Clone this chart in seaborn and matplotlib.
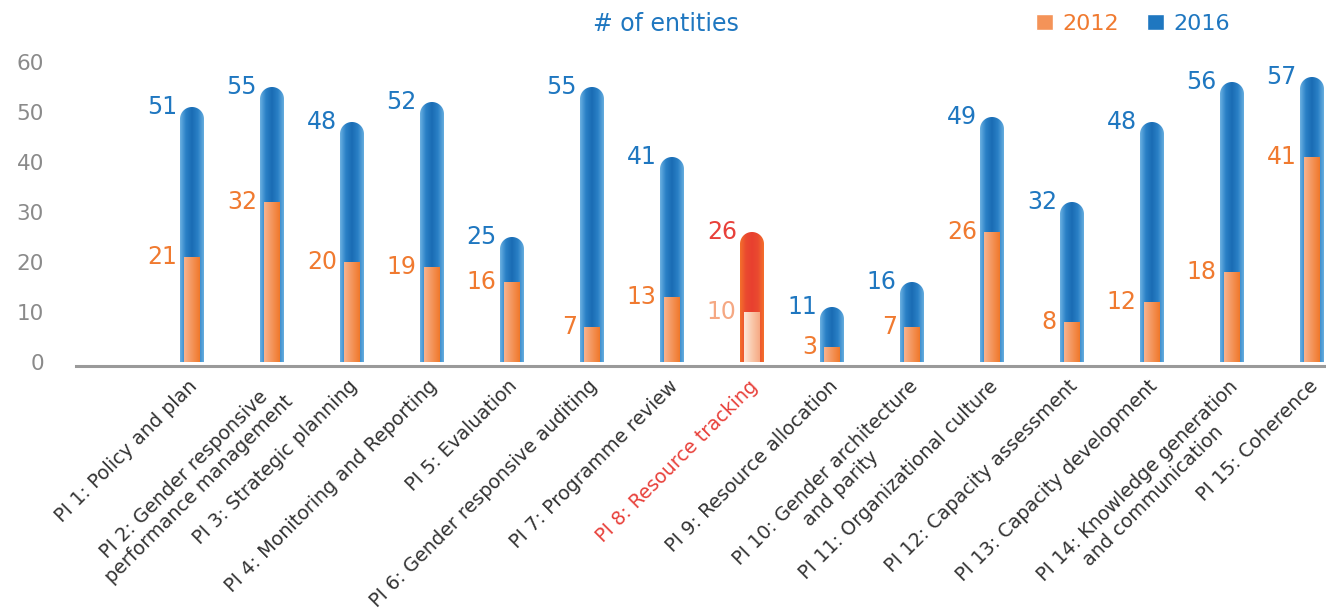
import numpy as np
import matplotlib
matplotlib.use("Agg")
import matplotlib.pyplot as plt
import seaborn as sns
from matplotlib.path import Path
from matplotlib.patches import PathPatch, Patch
from matplotlib.colors import LinearSegmentedColormap

categories = [
    "PI 1: Policy and plan",
    "PI 2: Gender responsive\nperformance management",
    "PI 3: Strategic planning",
    "PI 4: Monitoring and Reporting",
    "PI 5: Evaluation",
    "PI 6: Gender responsive auditing",
    "PI 7: Programme review",
    "PI 8: Resource tracking",
    "PI 9: Resource allocation",
    "PI 10: Gender architecture\nand parity",
    "PI 11: Organizational culture",
    "PI 12: Capacity assessment",
    "PI 13: Capacity development",
    "PI 14: Knowledge generation\nand communication",
    "PI 15: Coherence",
]
v2012 = [21, 32, 20, 19, 16, 7, 13, 10, 3, 7, 26, 8, 12, 18, 41]
v2016 = [51, 55, 48, 52, 25, 55, 41, 26, 11, 16, 49, 32, 48, 56, 57]
highlight = "PI 8: Resource tracking"
yticks = [0, 10, 20, 30, 40, 50, 60]

BLUE_TXT = "#1f77c0"
ORANGE_TXT = "#f07a30"
RED_TXT = "#e8403a"
PEACH_TXT = "#f5a883"
GRAY = "#8a8a8a"

cm_blue = LinearSegmentedColormap.from_list("b", ["#6cb1e2", "#2a80c6", "#1a6cb4", "#2a80c6", "#66addf"])
cm_orange = LinearSegmentedColormap.from_list("o", ["#f8b38f", "#f49358", "#ef7424"])
cm_red = LinearSegmentedColormap.from_list("r", ["#f4702c", "#ea4a30", "#e8402f", "#ea4a30", "#f4702c"])
cm_peach = LinearSegmentedColormap.from_list("p", ["#fde8dc", "#f9c6a8", "#f6a57e"])

sns.set_theme(style="white")
plt.rcParams["font.family"] = ["DejaVu Sans"]

W, H = 1326, 615
fig = plt.figure(figsize=(W / 100, H / 100), dpi=100)
ax = fig.add_axes([76 / W, 249 / H, (W - 76) / W, 304 / H])

sns.barplot(x=categories, y=v2016, width=0.3, color="#1a6cb4", ax=ax, zorder=2)
bars16 = list(ax.patches)
sns.barplot(x=categories, y=v2012, width=0.21, color="#ef7424", ax=ax, zorder=3)
bars12 = list(ax.patches)[len(bars16):]

ax.set_xlim(-1.45, 14.175)
ax.set_ylim(-0.8, 60)

# pixel scale for round caps
bbox = ax.get_window_extent()
px_x = bbox.width / (ax.get_xlim()[1] - ax.get_xlim()[0])
px_y = bbox.height / (ax.get_ylim()[1] - ax.get_ylim()[0])

grad = np.linspace(0, 1, 256)[None, :]


def grad_bar(p, cmap, rounded, z):
    x0, w, h = p.get_x(), p.get_width(), p.get_height()
    p.set_visible(False)
    x1 = x0 + w
    if rounded:
        rx = w / 2
        ry = rx * px_x / px_y
        th = np.linspace(np.pi, 0, 60)
        arc = np.column_stack([x0 + rx + rx * np.cos(th), h - ry + ry * np.sin(th)])
        verts = np.vstack([[x0, 0], [x0, h - ry], arc, [x1, 0], [x0, 0]])
    else:
        verts = np.array([[x0, 0], [x0, h], [x1, h], [x1, 0], [x0, 0]])
    codes = [Path.MOVETO] + [Path.LINETO] * (len(verts) - 2) + [Path.CLOSEPOLY]
    clip = PathPatch(Path(verts, codes), transform=ax.transData, facecolor="none", edgecolor="none")
    ax.add_patch(clip)
    im = ax.imshow(grad, cmap=cmap, extent=[x0, x1, 0, h], aspect="auto",
                   interpolation="bilinear", zorder=z)
    im.set_clip_path(clip)
    return x0, x1, h


for i, cat in enumerate(categories):
    hl = cat == highlight
    x0, x1, h = grad_bar(bars16[i], cm_red if hl else cm_blue, True, 2)
    ax.text(x0 - 0.04, h, f"{v2016[i]}", ha="right", va="center", fontsize=17,
            color=RED_TXT if hl else BLUE_TXT, zorder=5)
    ox0, ox1, oh = grad_bar(bars12[i], cm_peach if hl else cm_orange, False, 3)
    ax.text(x0 - 0.04, oh, f"{v2012[i]}", ha="right", va="center", fontsize=17,
            color=PEACH_TXT if hl else ORANGE_TXT, zorder=5)

ax.set_xlim(-1.45, 14.175)
ax.set_ylim(-0.8, 60)

ax.set_yticks(yticks)
ax.set_yticklabels([str(t) for t in yticks], fontsize=15.5, color=GRAY)
ax.tick_params(axis="y", length=0, pad=23)

# category labels drawn on the x axis positions
ax.set_xticks([])
ax.set_xlabel("")
ax.set_ylabel("")
xtr = ax.get_xaxis_transform()
for i, cat in enumerate(categories):
    ax.text(i - 0.05, -0.035, cat, transform=xtr, rotation=45, ha="right", va="top",
            rotation_mode="anchor", multialignment="center", fontsize=13.8,
            color=RED_TXT if cat == highlight else "#333333")

for s in ["top", "right", "left"]:
    ax.spines[s].set_visible(False)
ax.spines["bottom"].set_color("#9a9a9a")
ax.spines["bottom"].set_linewidth(2.2)
ax.grid(False)

fig.text(666 / W, 1 - 24 / H, "# of entities", ha="center", va="center",
         fontsize=17, color=BLUE_TXT)

handles = [Patch(facecolor="#f49358"), Patch(facecolor="#1f77c0")]
leg = fig.legend(handles, ["2012", "2016"], ncol=2, frameon=False, loc="center left",
                 bbox_to_anchor=(1036 / W, 1 - 24 / H), fontsize=16, borderpad=0,
                 borderaxespad=0, handlelength=0.75, handleheight=0.75, handletextpad=0.45,
                 columnspacing=1.25)
for t, c in zip(leg.get_texts(), [ORANGE_TXT, BLUE_TXT]):
    t.set_color(c)

fig.savefig("out.png", dpi=100)
